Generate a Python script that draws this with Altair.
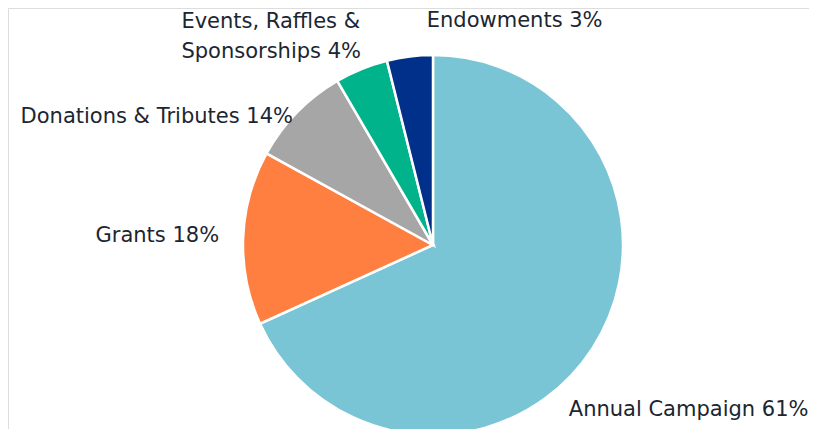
import altair as alt
import pandas as pd

categories = ["Annual Campaign", "Grants", "Donations & Tributes",
              "Events, Raffles & Sponsorships", "Endowments"]
values = [68.2, 14.8, 8.6, 4.5, 3.9]
labels = ["Annual Campaign 61%", "Grants 18%", "Donations & Tributes 14%",
          "Events, Raffles &\nSponsorships 4%", "Endowments 3%"]
colors = ["#7AC5D5", "#FF7F41", "#A6A6A6", "#00B38B", "#00308A"]

df = pd.DataFrame({
    "category": categories,
    "value": values,
    "label": labels,
    "idx": list(range(len(categories))),
})

CX, CY, R = 425, 237, 190
theta_scale = alt.Scale(domain=[0, 100], range=[0, 6.283185307179586])

base = alt.Chart(df)

pie = base.mark_arc(stroke="white", strokeWidth=2.5, radius=R).encode(
    theta=alt.Theta("value:Q", stack=True, scale=theta_scale),
    color=alt.Color("category:N", scale=alt.Scale(domain=categories, range=colors), legend=None),
    order=alt.Order("idx:Q"),
    x=alt.value(CX),
    y=alt.value(CY),
)

# label placement style: (align, dx, dy) per label
label_style = {
    "Annual Campaign": ("left", -24, 68),
    "Grants": ("right", -24, 4),
    "Donations & Tributes": ("right", -4, 11),
    "Events, Raffles & Sponsorships": ("left", -180, -41),
    "Endowments": ("left", 17, -29),
}

text_base = base.transform_window(
    cum="sum(value)", sort=[alt.SortField("idx")], frame=[None, 0]
).transform_calculate(mid="datum.cum - datum.value / 2")

layers = [pie]
for cat in categories:
    align, dx, dy = label_style[cat]
    layers.append(
        text_base.transform_filter(alt.datum.category == cat).mark_text(
            radius=R, align=align, baseline="alphabetic", dx=dx, dy=dy,
            font="DejaVu Sans", fontSize=21, color="#1B2631",
            lineBreak="\n", lineHeight=30,
        ).encode(
            theta=alt.Theta("mid:Q", stack=None, scale=theta_scale),
            text="label:N",
            x=alt.value(CX),
            y=alt.value(CY),
        )
    )

chart = alt.layer(*layers).properties(
    width=801, height=421, padding=0, autosize=alt.AutoSizeParams(type="none")
).configure_view(stroke=None, fill=None).configure(background="transparent")

chart.save("out.html", embed_options={"renderer": "svg", "actions": False})
